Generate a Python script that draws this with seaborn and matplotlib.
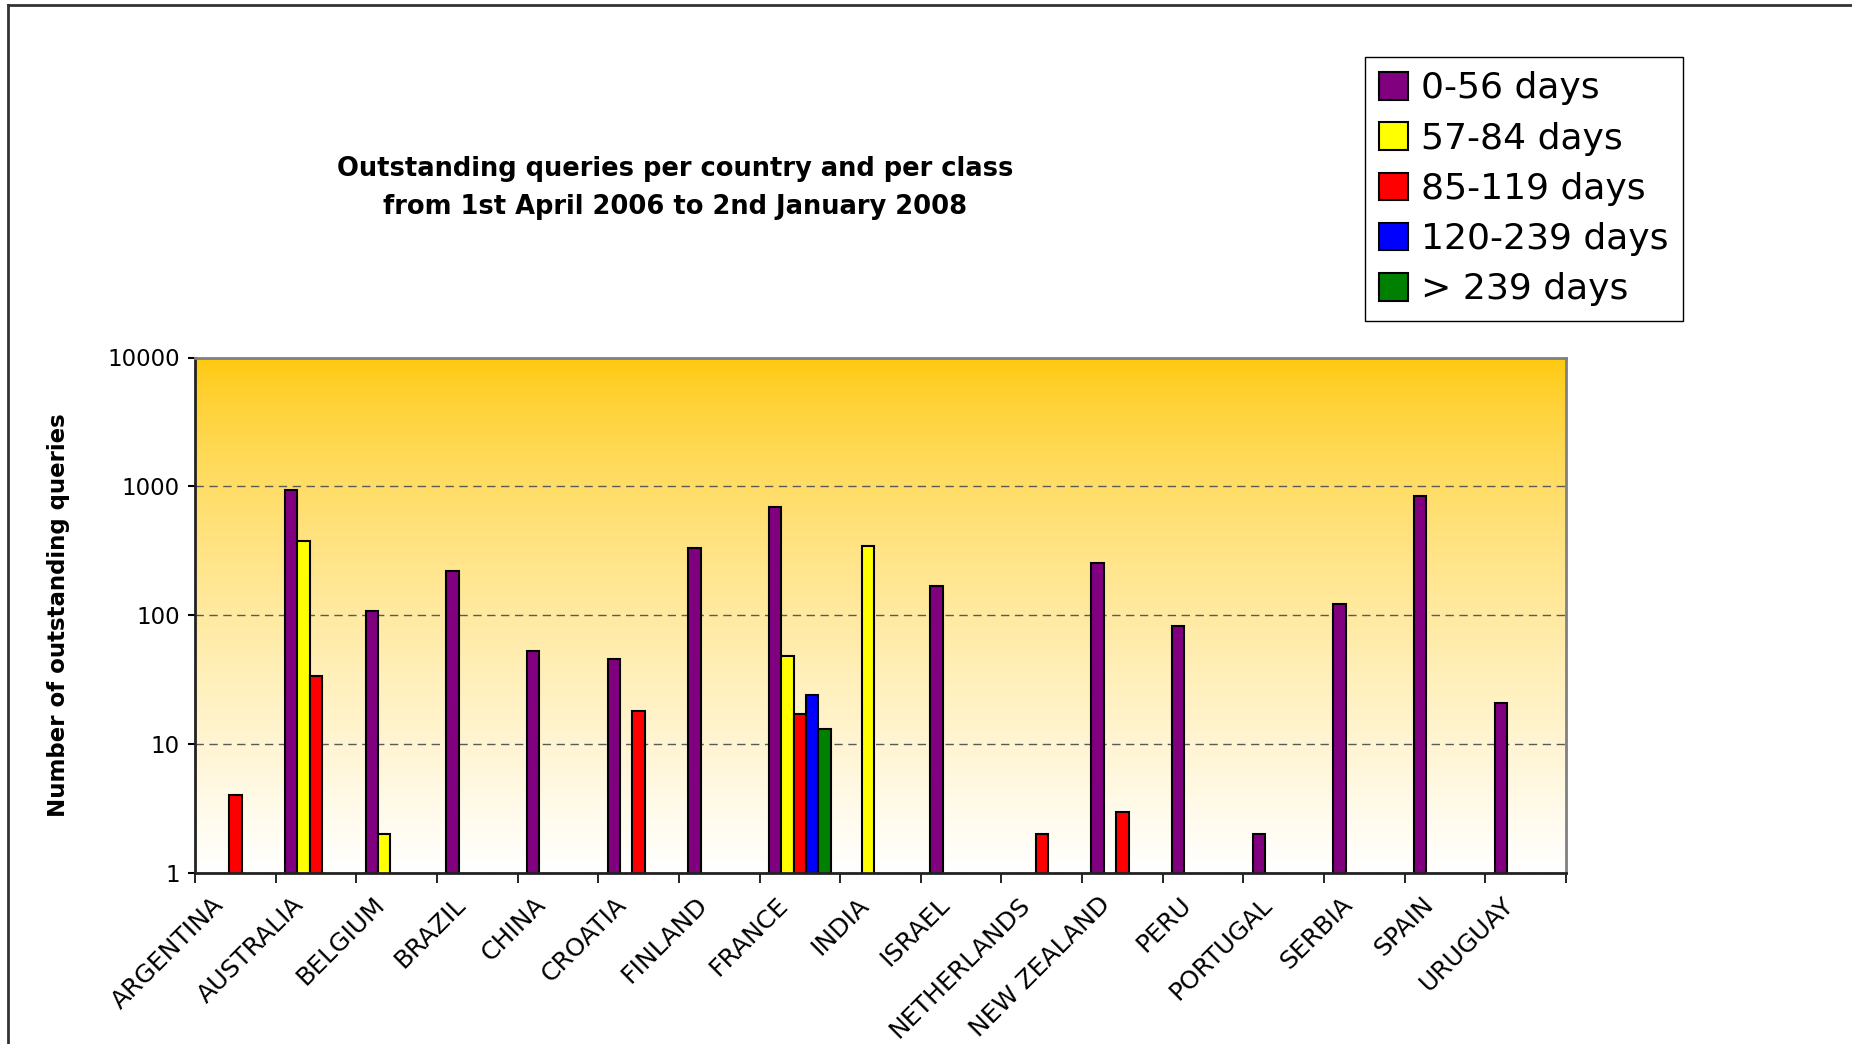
import numpy as np
import pandas as pd
import matplotlib
matplotlib.use('Agg')
import matplotlib.pyplot as plt
import seaborn as sns
from matplotlib.lines import Line2D
from matplotlib.ticker import NullLocator
from matplotlib.transforms import ScaledTranslation

# data
countries = ['ARGENTINA', 'AUSTRALIA', 'BELGIUM', 'BRAZIL', 'CHINA', 'CROATIA',
             'FINLAND', 'FRANCE', 'INDIA', 'ISRAEL', 'NETHERLANDS', 'NEW ZEALAND',
             'PERU', 'PORTUGAL', 'SERBIA', 'SPAIN', 'URUGUAY']
classes = ['0-56 days', '57-84 days', '85-119 days', '120-239 days', '> 239 days']
nan = np.nan
q_0_56 = [nan, 930, 107, 220, 53, 46, 330, 690, nan, 170, nan, 254, 82, 2, 122, 840, 21]
q_57_84 = [nan, 377, 2, nan, nan, nan, nan, 48, 343, nan, nan, nan, nan, nan, nan, nan, nan]
q_85_119 = [4, 34, nan, nan, nan, 18, nan, 17, nan, nan, 2, 3, nan, nan, nan, nan, nan]
q_120_239 = [nan, nan, nan, nan, nan, nan, nan, 24, nan, nan, nan, nan, nan, nan, nan, nan, nan]
q_over_239 = [nan, nan, nan, nan, nan, nan, nan, 13, nan, nan, nan, nan, nan, nan, nan, nan, nan]
class_colors = ['#800080', '#FFFF00', '#FF0000', '#0000FF', '#008000']
yticks = [1, 10, 100, 1000, 10000]
ytick_labels = ['1', '10', '100', '1000', '10000']

df = pd.DataFrame({
    'country': countries * 5,
    'cls': np.repeat(classes, len(countries)),
    'queries': q_0_56 + q_57_84 + q_85_119 + q_120_239 + q_over_239,
}).dropna()

W, H = 1852, 1044
fig = plt.figure(figsize=(W / 100, H / 100), dpi=100)
pos = [195 / W, 1 - 873 / H, (1566 - 195) / W, (873 - 357.5) / H]

# gold -> white gradient behind the plot
bg = fig.add_axes(pos, zorder=0)
t = np.linspace(0, 1, 400) ** 0.7
top = np.array([255, 200, 10]) / 255
grad = top[None, :] * (1 - t[:, None]) + np.array([1, 1, 1])[None, :] * t[:, None]
bg.imshow(grad[:, None, :], aspect='auto', extent=[0, 1, 0, 1])
bg.axis('off')

ax = fig.add_axes(pos, zorder=1)
ax.patch.set_alpha(0)
sns.barplot(data=df, x='country', y='queries', hue='cls', order=countries,
            hue_order=classes, palette=class_colors, saturation=1,
            width=5 / 6.5, gap=0, edgecolor='black', linewidth=1.5,
            errorbar=None, ax=ax)
ax.set_yscale('log')

ax.set_ylim(1, 10000)
ax.set_xlim(-0.5, len(countries) - 0.5)
ax.set_xlabel('')
ax.set_ylabel('')

ax.set_yticks(yticks, labels=ytick_labels)
ax.yaxis.set_minor_locator(NullLocator())
ax.tick_params(axis='y', length=5, width=1.5, pad=6, labelsize=16.5, direction='out')
ax.yaxis.grid(True, linestyle=(0, (6, 4)), color='#5a5a5a', linewidth=1)
ax.set_axisbelow(True)

ax.set_xticks(range(len(countries)), labels=countries)
ax.set_xticks(np.arange(-0.5, len(countries)), minor=True)
ax.tick_params(axis='x', which='major', length=0, pad=14, labelsize=18)
ax.tick_params(axis='x', which='minor', length=7, width=1.2, direction='out')
for lbl in ax.get_xticklabels():
    lbl.set_rotation(45)
    lbl.set_ha('right')
    lbl.set_va('top')
    lbl.set_rotation_mode('anchor')
    lbl.set_transform(lbl.get_transform() + ScaledTranslation(-0.24, 0, fig.dpi_scale_trans))

for side in ['left', 'bottom']:
    ax.spines[side].set_color('#222222')
    ax.spines[side].set_linewidth(2)
for side in ['top', 'right']:
    ax.spines[side].set_color('#808080')
    ax.spines[side].set_linewidth(2)

handles, labels = ax.get_legend_handles_labels()
ax.get_legend().remove()
ax.legend(handles, labels, loc='upper left',
          bbox_to_anchor=(1365 / W, 1 - 57 / H), bbox_transform=fig.transFigure,
          fontsize=26, frameon=True, fancybox=False, edgecolor='black',
          framealpha=1, borderaxespad=0, borderpad=0.4, handlelength=0.8,
          handleheight=0.8, handletextpad=0.35, labelspacing=0.45)
ax.get_legend().get_frame().set_linewidth(1)

fig.text(675 / W, 1 - 188 / H,
         'Outstanding queries per country and per class\nfrom 1st April 2006 to 2nd January 2008',
         ha='center', va='center', fontsize=18.5, fontweight='bold', linespacing=1.6)
fig.text(59 / W, 1 - 615 / H, 'Number of outstanding queries', rotation=90,
         ha='center', va='center', fontsize=16.5, fontweight='bold')

# frame around the chart area (top and left edges visible)
fig.add_artist(Line2D([8 / W, 8 / W], [0, 1 - 5 / H], transform=fig.transFigure,
                      color='#333333', linewidth=2))
fig.add_artist(Line2D([8 / W, 1], [1 - 5 / H, 1 - 5 / H], transform=fig.transFigure,
                      color='#333333', linewidth=2))

fig.savefig('out.png', dpi=100)
